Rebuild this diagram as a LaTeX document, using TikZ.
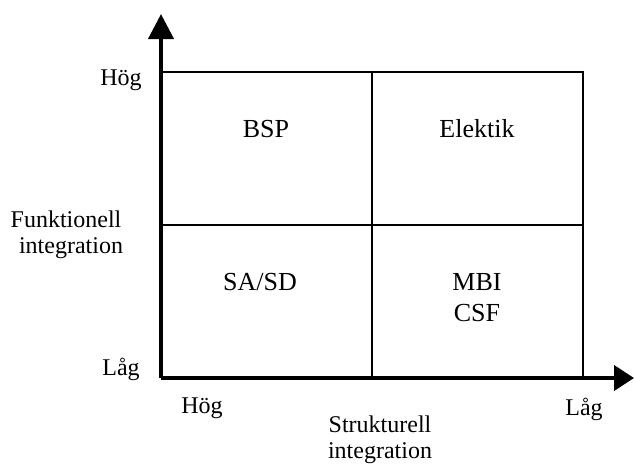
\documentclass[tikz,border=0pt]{standalone}
\usepackage{fontspec}
\setmainfont{Liberation Serif}
\usetikzlibrary{arrows.meta}
\begin{document}
\begin{tikzpicture}[x=1pt,y=-1pt,
  axis/.style={line width=4pt,-{Triangle[length=25pt,width=25pt]}},
  grid/.style={line width=1.6pt},
  quad/.style={font=\fontsize{26}{31}\selectfont,align=center,anchor=base,inner sep=0pt},
  lab/.style={font=\fontsize{24}{28}\selectfont,align=center,anchor=base,inner sep=0pt}]
\useasboundingbox[fill=white] (0,0) rectangle (634,467);
% corners of the matrix
\coordinate (O) at (161,378);
\coordinate (ytip) at (161,14);
\coordinate (xtip) at (634,378);
\coordinate (tr) at (583,72);
\coordinate (tl) at (161,72);
\coordinate (br) at (583,378);
\coordinate (mt) at (372,72);
\coordinate (mb) at (372,378);
\coordinate (ml) at (161,225);
\coordinate (mr) at (583,225);
% quadrant grid
\draw[grid] (tl) -- (tr) -- (br);
\draw[grid] (mt) -- (mb);
\draw[grid] (ml) -- (mr);
% axes
\draw[axis] (O) -- (ytip);
\draw[axis,-{Triangle[length=20pt,width=25pt]}] (O) -- (xtip);
% quadrant labels
\node[quad] (bsp) at (266,137) {BSP};
\node[quad] (el) at (477,137) {Elektik};
\node[quad] (sasd) at (260,290) {SA/SD};
\node[quad] (mbi) at (477,290) {MBI};
\node[quad] (csf) at (477,321) {CSF};
% vertical axis labels
\node[lab] (yh) at (121,85) {Hög};
\node[lab] (yl) at (121,375) {Låg};
\node[lab] (fi1) at (66,227) {Funktionell};
\node[lab] (fi2) at (71,253) {integration};
% horizontal axis labels
\node[lab] (xh) at (202,413) {Hög};
\node[lab] (xl) at (584,415) {Låg};
\node[lab] (si1) at (380,432) {Strukturell};
\node[lab] (si2) at (380,458) {integration};
\end{tikzpicture}
\end{document}
